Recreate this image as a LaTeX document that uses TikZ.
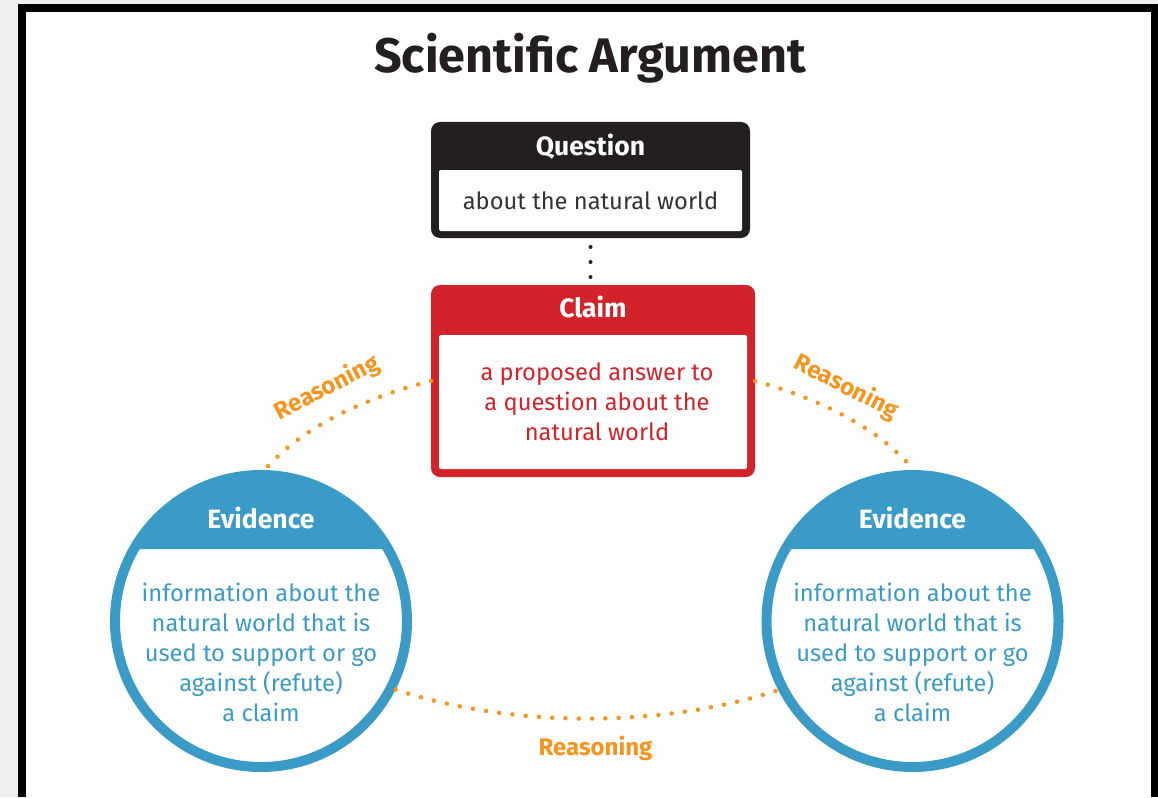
\documentclass[tikz,border=0pt]{standalone}
\usepackage{fontspec}
\setmainfont{Fira Sans}
\usetikzlibrary{calc}

\definecolor{pagegray}{HTML}{F0F0F0}
\definecolor{inkblack}{HTML}{231F20}
\definecolor{claimred}{HTML}{D2232A}
\definecolor{evblue}{HTML}{3A9BC7}
\definecolor{reasonorange}{HTML}{F7941D}
\definecolor{bodygray}{HTML}{333333}

\newcommand\titlefont{\fontsize{48.5}{54}\selectfont\bfseries}
\newcommand\headfont{\fontsize{26.5}{30}\selectfont\bfseries}
\newcommand\bodyfont{\fontsize{23.7}{30}\selectfont}
\newcommand\reasonfont{\fontsize{24}{28}\selectfont\bfseries}

\begin{document}
\begin{tikzpicture}[x=1pt, y=1pt,
  every node/.style={inner sep=0pt, outer sep=0pt},
  framebox/.style={rounded corners=9pt, fill=#1},
  innerbox/.style={fill=white, rounded corners=2pt},
  headtext/.style={text=white, font=\headfont, anchor=base},
  bodytext/.style={font=\bodyfont, align=center},
  evcircle/.style={circle, draw=evblue, line width=10pt, fill=white,
    minimum size=292pt, outer sep=5pt},
  reasoning/.style={draw=reasonorange, line width=4.5pt, line cap=round,
    dash pattern=on 0pt off 13.3pt},
  reasonlabel/.style={text=reasonorange, font=\reasonfont},
  linkdots/.style={draw=inkblack, line width=4pt, line cap=round,
    dash pattern=on 0pt off 15pt}]

% page and frame
\fill[pagegray] (0,0) rectangle (1158,-797);
\useasboundingbox (0,0) rectangle (1158,-797);
\fill[black] (18,-4) rectangle (1158,-797);
\fill[white] (26,-12) rectangle (1151,-797);

% title
\node[font=\titlefont, text=inkblack, anchor=base] (title) at (590,-73) {Scientific Argument};

% question box
\node[framebox=inkblack, minimum width=319pt, minimum height=116pt] (question) at (590.5,-180) {};
\node[innerbox, minimum width=303pt, minimum height=61pt] (qbody) at (590.5,-200.5) {};
\node[headtext] (qhead) at (590.5,-155) {Question};
\node[font=\bodyfont, text=bodygray, anchor=base] (qtext) at (590.5,-209) {about the natural world};

% claim box
\node[framebox=claimred, minimum width=324pt, minimum height=192pt] (claim) at (593,-381) {};
\node[innerbox, minimum width=308pt, minimum height=134pt] (cbody) at (593,-402) {};
\node[headtext] (chead) at (593,-317) {Claim};
\node[bodytext, text=claimred] (ctext) at (597,-402) {a proposed answer to\\a question about the\\natural world};

% evidence circles
\foreach \nm/\cx in {evL/261, evR/912.5} {
  \node[evcircle] (\nm) at (\cx,-621) {};
  \fill[evblue] ($(\nm.center)+(29.5:146)$) arc[start angle=29.5, end angle=150.5, radius=146pt] -- cycle;
  \node[headtext] (\nm head) at (\cx,-528) {Evidence};
  \node[bodytext, text=evblue] (\nm text) at (\cx,-652) {information about the\\natural world that is\\used to support or go\\against (refute)\\a claim};
}

% question to claim
\draw[linkdots, shorten <=9pt, shorten >=7.5pt] (question.south) -- (question.south |- claim.north);

% reasoning links
\draw[reasoning] (claim.west) arc[start angle=116.4, end angle=157.5, x radius=353pt, y radius=180pt];
\draw[reasoning] (claim.east) arc[start angle=61.8, end angle=22.5, x radius=353pt, y radius=180pt];
\draw[reasoning] (evL.-27) arc[start angle=237, end angle=303, x radius=353pt, y radius=180pt];

\node[reasonlabel, rotate=27] (rleft) at (327,-388) {Reasoning};
\node[reasonlabel, rotate=-27] (rright) at (846,-387) {Reasoning};
\node[reasonlabel] (rbottom) at (595.5,-748) {Reasoning};
\end{tikzpicture}
\end{document}
